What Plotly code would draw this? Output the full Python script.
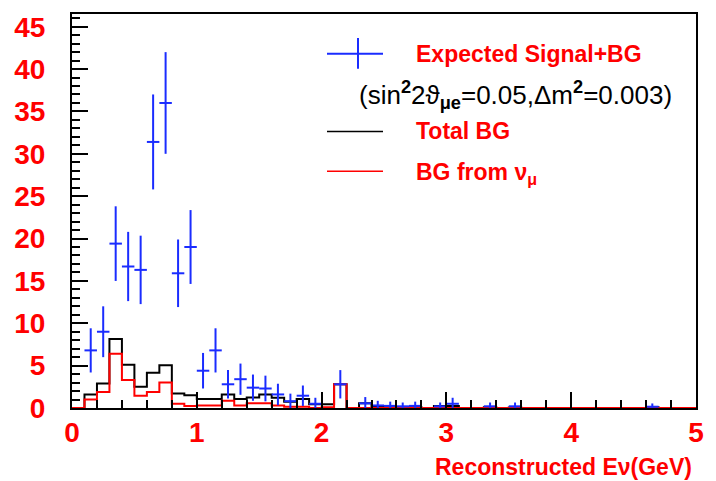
import numpy as np
import plotly.graph_objects as go

# ---- data (50 bins of 0.1 GeV from 0 to 5 GeV) ----
bin_lo = 0.0
bin_width = 0.1
sig_plus_bg = [0, 6.8, 9.0, 19.4, 16.7, 16.3, 31.4, 36.0, 15.9, 19.0,
               4.4, 6.8, 2.8, 3.4, 2.4, 2.3, 1.6, 0.8, 1.45, 0.5,
               0, 2.8, 0, 0.55, 0.3, 0.25, 0.2, 0.25, 0, 0.2,
               0.5, 0, 0, 0.2, 0, 0.2, 0, 0, 0, 0,
               0, 0, 0, 0, 0, 0, 0.15, 0, 0, 0]
total_bg = [0, 1.6, 2.9, 8.15, 5.1, 2.5, 4.15, 5.05, 1.7, 1.5,
            1.05, 1.05, 1.6, 1.05, 1.25, 1.6, 1.2, 0.75, 1.05, 0.45,
            0.45, 2.8, 0, 0.55, 0.15, 0.1, 0.05, 0.1, 0, 0.25,
            0.25, 0, 0, 0.1, 0, 0.05, 0, 0, 0, 0,
            0, 0, 0, 0, 0, 0, 0.1, 0, 0, 0]
bg_from_numu = [0, 1.0, 1.9, 6.4, 3.3, 1.45, 1.9, 3.0, 0.5, 0.25,
                0.3, 0.3, 0.85, 0.3, 0.55, 0.55, 0.3, 0.15, 0.15, 0.0,
                0.1, 2.8, 0, 0, 0, 0, 0, 0, 0, 0,
                0, 0, 0, 0, 0, 0, 0, 0, 0, 0,
                0, 0, 0, 0, 0, 0, 0, 0, 0, 0]
y_ticks = [0, 5, 10, 15, 20, 25, 30, 35, 40, 45]
x_ticks = [0, 1, 2, 3, 4, 5]

nb = len(sig_plus_bg)
edges = bin_lo + bin_width * np.arange(nb + 1)
centers = edges[:-1] + bin_width / 2


def step_xy(vals):
    xs = [edges[0]] + list(edges[:-1]) + [edges[-1]]
    ys = [0] + list(vals) + [vals[-1]]
    return xs, ys


fig = go.Figure()
xb, yb = step_xy(total_bg)
fig.add_trace(go.Scatter(x=xb, y=yb, mode="lines", line=dict(color="black", width=2, shape="hv"),
                         showlegend=False, hoverinfo="skip"))
xr, yr = step_xy(bg_from_numu)
fig.add_trace(go.Scatter(x=xr, y=yr, mode="lines", line=dict(color="#ff0000", width=2, shape="hv"),
                         showlegend=False, hoverinfo="skip"))

sv = np.array(sig_plus_bg, dtype=float)
mask = sv > 0
fig.add_trace(go.Scatter(
    x=centers[mask], y=sv[mask], mode="markers",
    marker=dict(size=1, color="rgba(0,0,0,0)"),
    error_y=dict(type="data", array=np.sqrt(sv[mask]), color="#1a2cff", thickness=2, width=0),
    error_x=dict(type="constant", value=bin_width / 2, color="#1a2cff", thickness=2, width=0),
    showlegend=False))

# ---- layout ----
L, R, T, B = 72, 20, 12, 73
W, H = 716, 481
pw, ph = W - L - R, H - T - B


def px(x):
    return (x - L) / pw


def py(y):
    return (H - B - y) / ph


FAM = "Liberation Sans, Arial, sans-serif"
tick_font = dict(family=FAM, size=28, color="#ff0000", weight="bold")
fig.update_xaxes(range=[0, 5], tickvals=x_ticks, ticktext=[str(v) for v in x_ticks],
                 ticks="inside", ticklen=16, tickwidth=1.5, tickcolor="black",
                 minor=dict(dtick=0.2, ticks="inside", ticklen=8, tickwidth=1.5, tickcolor="black"),
                 showline=True, linecolor="black", linewidth=2, mirror=True,
                 showgrid=False, zeroline=False, tickfont=tick_font, ticklabelstandoff=-2)
fig.update_yaxes(range=[0, 46.5], tickvals=y_ticks, ticktext=[str(v) for v in y_ticks],
                 ticks="inside", ticklen=16, tickwidth=1.5, tickcolor="black",
                 minor=dict(dtick=1, ticks="inside", ticklen=8, tickwidth=1.5, tickcolor="black"),
                 showline=True, linecolor="black", linewidth=2, mirror=True,
                 showgrid=False, zeroline=False, tickfont=tick_font, ticklabelstandoff=19)

leg_font = dict(family=FAM, size=23, color="#ff0000")
shapes = [
    dict(type="line", xref="paper", yref="paper", x0=px(327), x1=px(383), y0=py(52), y1=py(52),
         line=dict(color="#1a2cff", width=2)),
    dict(type="line", xref="paper", yref="paper", x0=px(358), x1=px(358), y0=py(36), y1=py(67),
         line=dict(color="#1a2cff", width=2)),
    dict(type="line", xref="paper", yref="paper", x0=px(327), x1=px(383), y0=py(130), y1=py(130),
         line=dict(color="black", width=1.5)),
    dict(type="line", xref="paper", yref="paper", x0=px(327), x1=px(383), y0=py(170), y1=py(170),
         line=dict(color="#ff0000", width=1.5)),
]
annotations = [
    dict(text="<b>Expected Signal+BG</b>", x=px(414), y=py(52), xref="paper", yref="paper",
         xanchor="left", yanchor="middle", showarrow=False, font=leg_font),
    dict(text="(sin<sup><b>2</b></sup>2ϑ<sub><b>μe</b></sub>=0.05,Δm<sup><b>2</b></sup>=0.003)",
         x=px(357), y=py(93),
         xref="paper", yref="paper", xanchor="left", yanchor="middle", showarrow=False,
         font=dict(family=FAM, size=26, color="black")),
    dict(text="<b>Total BG</b>", x=px(414), y=py(130), xref="paper", yref="paper",
         xanchor="left", yanchor="middle", showarrow=False, font=leg_font),
    dict(text="<b>BG from ν<sub>μ</sub></b>", x=px(414), y=py(172), xref="paper", yref="paper",
         xanchor="left", yanchor="middle", showarrow=False, font=leg_font),
    dict(text="<b>Reconstructed Eν(GeV)</b>", x=px(694), y=py(467), xref="paper", yref="paper",
         xanchor="right", yanchor="middle", showarrow=False,
         font=dict(family=FAM, size=23, color="#ff0000")),
]

fig.update_layout(width=W, height=H, margin=dict(l=L, r=R, t=T, b=B),
                  paper_bgcolor="white", plot_bgcolor="white",
                  shapes=shapes, annotations=annotations, showlegend=False)
fig.write_html("out.html")
